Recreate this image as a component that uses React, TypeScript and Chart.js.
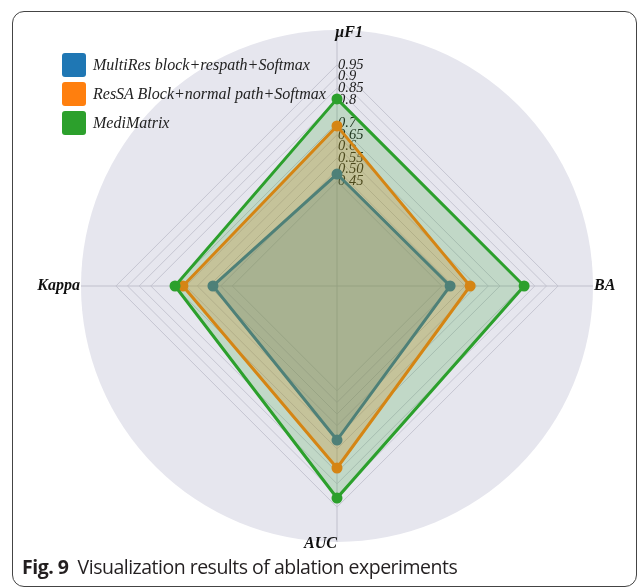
import React, { useEffect, useRef } from "react";
import { Chart, registerables } from "chart.js";

Chart.register(...registerables);

const categories = ["µF1", "BA", "AUC", "Kappa"];
const seriesNames = [
  "MultiRes block+respath+Softmax",
  "ResSA Block+normal path+Softmax",
  "MediMatrix",
];
const multiResValues = [0.481, 0.486, 0.662, 0.533];
const resSAValues = [0.688, 0.572, 0.782, 0.662];
const mediMatrixValues = [0.804, 0.804, 0.911, 0.696];
const tickValues = [0.45, 0.5, 0.55, 0.6, 0.65, 0.7, 0.8, 0.85, 0.9, 0.95];
const tickLabels = ["0.45", "0.50", "0.55", "0.6", "0.65", "0.7", "0.8", "0.85", "0.9", "0.95"];
const radialMax = 1.1;

const lineColors = ["#1f77b4", "#ff7f0e", "#2ca02c"];
const fillColors = ["rgba(31,119,180,0.25)", "rgba(255,127,14,0.25)", "rgba(44,160,44,0.2)"];
const seriesValues = [multiResValues, resSAValues, mediMatrixValues];

const decorPlugin = {
  id: "radarDecor",
  beforeDraw(chart: any) {
    const s = chart.scales.r;
    const ctx = chart.ctx;
    ctx.save();
    ctx.beginPath();
    ctx.arc(s.xCenter, s.yCenter, s.drawingArea, 0, Math.PI * 2);
    ctx.fillStyle = "#e6e6ee";
    ctx.fill();
    ctx.restore();
  },
  beforeDatasetsDraw(chart: any) {
    const s = chart.scales.r;
    const ctx = chart.ctx;
    ctx.save();
    ctx.font = "italic 14.5px 'Liberation Serif', serif";
    ctx.fillStyle = "#1a1a1a";
    ctx.textAlign = "left";
    ctx.textBaseline = "middle";
    tickValues.forEach((v, i) => {
      const r = s.getDistanceFromCenterForValue(v);
      ctx.fillText(tickLabels[i], s.xCenter + 1, s.yCenter - r);
    });
    ctx.restore();
  },
  afterDraw(chart: any) {
    const s = chart.scales.r;
    const ctx = chart.ctx;
    const R = s.drawingArea;
    ctx.save();
    ctx.font = "italic bold 16px 'Liberation Serif', serif";
    ctx.fillStyle = "#111";
    ctx.textBaseline = "middle";
    ctx.textAlign = "left";
    ctx.fillText(categories[0], s.xCenter - 2, s.yCenter - R + 3);
    ctx.textAlign = "left";
    ctx.fillText(categories[1], s.xCenter + R + 1, s.yCenter);
    ctx.textAlign = "right";
    ctx.fillText(categories[2], s.xCenter, s.yCenter + R + 2);
    ctx.textAlign = "right";
    ctx.fillText(categories[3], s.xCenter - R - 1, s.yCenter);
    ctx.restore();
  },
};

export default function App() {
  const ref = useRef<HTMLCanvasElement>(null);
  useEffect(() => {
    if (!ref.current) return;
    const chart = new Chart(ref.current, {
      type: "radar",
      data: {
        labels: categories,
        datasets: seriesValues.map((vals, i) => ({
          label: seriesNames[i],
          data: vals,
          borderColor: lineColors[i],
          backgroundColor: fillColors[i],
          pointBackgroundColor: lineColors[i],
          pointBorderColor: lineColors[i],
          pointRadius: 4,
          borderWidth: 3,
          fill: true,
          order: 2 - i,
        })),
      },
      options: {
        responsive: false,
        animation: false,
        layout: { padding: { left: 81, right: 44, top: 30, bottom: 46 } },
        plugins: { legend: { display: false }, tooltip: { enabled: false } },
        scales: {
          r: {
            min: 0,
            max: radialMax,
            afterBuildTicks: (scale: any) => {
              scale.ticks = [0, ...tickValues].map((v) => ({ value: v }));
            },
            ticks: { display: false },
            pointLabels: { display: false },
            grid: { color: "#c6c6d2", lineWidth: 1 },
            angleLines: { color: "#c0c0cc", lineWidth: 1 },
          },
        },
      },
      plugins: [decorPlugin],
    });
    return () => chart.destroy();
  }, []);

  return (
    <div style={{ position: "absolute", left: 0, top: 0, width: 637, height: 588, background: "#fff", overflow: "hidden" }}>
      <div
        style={{
          position: "absolute",
          left: 12,
          top: 11,
          width: 623,
          height: 574,
          border: "1px solid #444",
          borderRadius: 12,
        }}
      />
      <canvas ref={ref} width={637} height={588} style={{ position: "absolute", left: 0, top: 0 }} />
      {seriesNames.map((name, i) => (
        <div key={name} style={{ position: "absolute", left: 62, top: 53 + i * 29, height: 24, display: "flex", alignItems: "center" }}>
          <div style={{ width: 24, height: 24, borderRadius: 3, background: lineColors[i] }} />
          <span style={{ marginLeft: 7, font: "italic 16px 'Liberation Serif', serif", color: "#222", whiteSpace: "nowrap" }}>{name}</span>
        </div>
      ))}
      <div
        style={{
          position: "absolute",
          left: 22,
          top: 553,
          font: "19.5px 'Open Sans', sans-serif",
          color: "#231f20",
          whiteSpace: "nowrap",
          letterSpacing: -0.5,
          lineHeight: "28px",
        }}
      >
        <b>Fig. 9</b>&nbsp;&nbsp;Visualization results of ablation experiments
      </div>
    </div>
  );
}
